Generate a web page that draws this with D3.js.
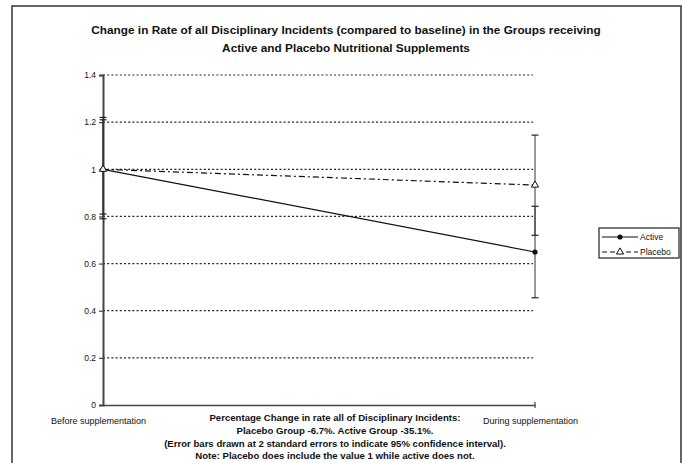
<!DOCTYPE html>
<html>
<head>
<meta charset="utf-8">
<script src="https://cdn.jsdelivr.net/npm/d3@7"></script>
<style>
  body { margin: 0; background: #fff; }
  svg text { font-family: "Liberation Sans", Arial, sans-serif; fill: #111; }
</style>
</head>
<body>
<script>
// values
const categories = ["Before supplementation", "During supplementation"];
const seriesNames = ["Active", "Placebo"];
const activeMean = [1, 0.649];
const activeLow = [0.79, 0.455];
const activeHigh = [1.21, 0.843];
const placeboMean = [1, 0.933];
const placeboLow = [0.81, 0.72];
const placeboHigh = [1.22, 1.145];
const yTicks = [0, 0.2, 0.4, 0.6, 0.8, 1, 1.2, 1.4];
const titleLines = [
    "Change in Rate of all Disciplinary Incidents (compared to baseline) in the Groups receiving",
    "Active and Placebo Nutritional Supplements"
];
const noteLines = [
    "Percentage Change in rate all of Disciplinary Incidents:",
    "Placebo Group -6.7%. Active Group -35.1%.",
    "(Error bars drawn at 2 standard errors to indicate 95% confidence interval).",
    "Note: Placebo does include the value 1 while active does not."
];

const width = 684, height = 463;

let svg = d3.select("body").append("svg")
    .attr("width", width)
    .attr("height", height);

// outer frame (bottom edge is cut off in the scan)
svg.append("path")
    .attr("d", "M12,470 L12,6 L681,6 L681,470")
    .attr("fill", "none")
    .attr("stroke", "#333")
    .attr("stroke-width", 1.5);

let xScale = d3.scalePoint()
    .domain(categories)
    .range([103, 535]);
let yScale = d3.scaleLinear()
    .domain([0, 1.4])
    .range([405, 75]);

// title
svg.append("g").selectAll("text")
    .data(titleLines)
    .enter().append("text")
    .attr("x", 346)
    .attr("y", (d, i) => 34 + i * 17.5)
    .attr("text-anchor", "middle")
    .attr("font-size", 11.8)
    .attr("font-weight", "bold")
    .text(d => d);

// dotted gridlines
svg.append("g").selectAll("line")
    .data(yTicks.filter(t => t > 0))
    .enter().append("line")
    .attr("x1", 103)
    .attr("x2", 533)
    .attr("y1", d => yScale(d))
    .attr("y2", d => yScale(d))
    .attr("stroke", "#222")
    .attr("stroke-width", 1.2)
    .attr("stroke-dasharray", "2 2.2");

// y axis
let yAxis = d3.axisLeft(yScale)
    .tickValues(yTicks)
    .tickSize(4)
    .tickFormat(d3.format("~g"));
let yg = svg.append("g")
    .attr("transform", "translate(103,0)")
    .call(yAxis);
yg.select(".domain").attr("stroke", "#444").attr("stroke-width", 2);
yg.selectAll(".tick line").attr("stroke", "#444").attr("stroke-width", 1.2);
yg.selectAll(".tick text")
    .attr("x", -7)
    .attr("font-size", 8.5)
    .attr("font-family", "Liberation Sans, Arial, sans-serif")
    .attr("fill", "#111");

// x axis
let xAxis = d3.axisBottom(xScale)
    .tickSize(0)
    .tickPadding(0);
let xg = svg.append("g")
    .attr("transform", "translate(0,405)")
    .call(xAxis);
xg.select(".domain").attr("stroke", "#444").attr("stroke-width", 1.5);
xg.selectAll(".tick text")
    .attr("dy", 0)
    .attr("y", 19)
    .attr("x", -5)
    .attr("font-size", 9)
    .attr("font-family", "Liberation Sans, Arial, sans-serif")
    .attr("fill", "#111");
xg.append("line")
    .attr("x1", xScale(categories[1]))
    .attr("x2", xScale(categories[1]))
    .attr("y1", -3)
    .attr("y2", 3)
    .attr("stroke", "#444")
    .attr("stroke-width", 1.2);

// notes under the chart
svg.append("g").selectAll("text")
    .data(noteLines)
    .enter().append("text")
    .attr("x", 335)
    .attr("y", (d, i) => 421 + i * 12.8)
    .attr("text-anchor", "middle")
    .attr("font-size", 9.6)
    .attr("font-weight", "bold")
    .text(d => d);

let series = [
    { name: seriesNames[0], mean: activeMean, low: activeLow, high: activeHigh, dash: null },
    { name: seriesNames[1], mean: placeboMean, low: placeboLow, high: placeboHigh, dash: "6 3 2 3" }
];

// error bars
series.forEach(s => {
    let g = svg.append("g");
    categories.forEach((c, i) => {
        let x = xScale(c);
        g.append("line")
            .attr("x1", x).attr("x2", x)
            .attr("y1", yScale(s.low[i])).attr("y2", yScale(s.high[i]))
            .attr("stroke", "#333").attr("stroke-width", 1);
        [s.low[i], s.high[i]].forEach(v => {
            g.append("line")
                .attr("x1", x - 3.5).attr("x2", x + 3.5)
                .attr("y1", yScale(v)).attr("y2", yScale(v))
                .attr("stroke", "#222").attr("stroke-width", 1.2);
        });
    });
});

let lineGen = d3.line()
    .x((d, i) => xScale(categories[i]))
    .y(d => yScale(d));

series.forEach(s => {
    svg.append("path")
        .attr("d", lineGen(s.mean))
        .attr("fill", "none")
        .attr("stroke", "#111")
        .attr("stroke-width", 1.2)
        .attr("stroke-dasharray", s.dash);
});

let triangle = d3.symbol().type(d3.symbolTriangle).size(22);

function drawMarker(g, name, x, y) {
    if (name === "Active") {
        g.append("circle")
            .attr("cx", x).attr("cy", y).attr("r", 2.6)
            .attr("fill", "#111");
    } else {
        g.append("path")
            .attr("d", triangle())
            .attr("transform", `translate(${x},${y})`)
            .attr("fill", "#fff")
            .attr("stroke", "#111")
            .attr("stroke-width", 1);
    }
}

let markers = svg.append("g");
series.forEach(s => {
    s.mean.forEach((v, i) => drawMarker(markers, s.name, xScale(categories[i]), yScale(v)));
});

// legend
let legend = svg.append("g").attr("transform", "translate(599,228)");
legend.append("rect")
    .attr("width", 80).attr("height", 30)
    .attr("fill", "#fff")
    .attr("stroke", "#222")
    .attr("stroke-width", 1.2);
series.forEach((s, i) => {
    let y = 9 + i * 15;
    legend.append("line")
        .attr("x1", 3).attr("x2", 39)
        .attr("y1", y).attr("y2", y)
        .attr("stroke", "#111")
        .attr("stroke-width", 1.2)
        .attr("stroke-dasharray", s.dash ? "5 3" : null);
    drawMarker(legend, s.name, 21, y);
    legend.append("text")
        .attr("x", 41)
        .attr("y", y + 3)
        .attr("font-size", 8.5)
        .text(s.name);
});
</script>
</body>
</html>
